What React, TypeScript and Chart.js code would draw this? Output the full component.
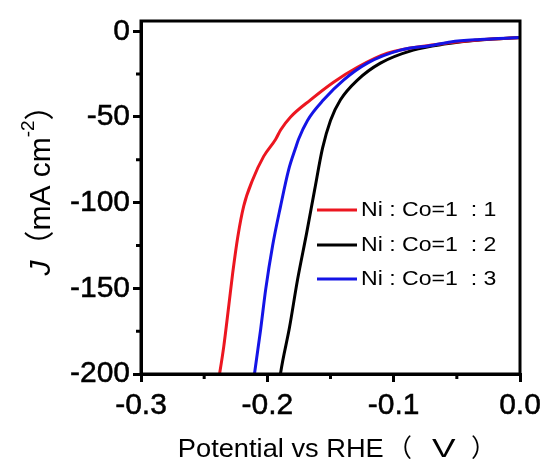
import { useEffect, useRef } from 'react';
import { Chart, registerables } from 'chart.js';

Chart.register(...registerables);

// ---- data (potential in V vs RHE, current density in mA cm^-2) ----
const seriesNames = ['Ni : Co=1  : 1', 'Ni : Co=1  : 2', 'Ni : Co=1  : 3'];
const seriesColors = ['#ec1620', '#000000', '#1414e6'];

const potential11 = [-0.239, -0.2376, -0.2345, -0.2305, -0.2274, -0.2234, -0.2187, -0.2116, -0.2029, -0.1934, -0.1895, -0.1816, -0.1658, -0.1476, -0.1287, -0.105, -0.07, -0.05, -0.03, 0.0];
const current11 = [-205, -199, -184, -160, -141, -120, -102, -86.6, -73, -63, -57.6, -50, -40, -29.7, -21, -12.8, -8, -6.2, -4.9, -3.7];

const potential12 = [-0.1905, -0.1895, -0.1824, -0.1761, -0.1689, -0.1626, -0.1563, -0.15, -0.1421, -0.1287, -0.1105, -0.0845, -0.06, -0.03, 0.0];
const current12 = [-205, -199.4, -172.6, -145, -117.8, -92.7, -68.2, -52, -40, -28.5, -18.6, -11, -7.5, -5, -3.7];

const potential13 = [-0.211, -0.21, -0.2053, -0.2013, -0.1958, -0.1895, -0.1832, -0.1776, -0.1753, -0.1682, -0.1555, -0.1397, -0.1208, -0.0947, -0.0687, -0.055, -0.0316, 0.0];
const current13 = [-205, -199, -174, -150.6, -125, -102, -81, -68, -63, -52, -40, -28.5, -18.6, -11, -8.1, -6.2, -4.8, -3.7];

const xMajorTicks = [-0.3, -0.2, -0.1, 0.0];
const xTickLabels = ['-0.3', '-0.2', '-0.1', '0.0'];
const yMajorTicks = [0, -50, -100, -150, -200];
const yTickLabels = ['0', '-50', '-100', '-150', '-200'];

const FONT = "'Liberation Sans', Arial, 'Noto Sans CJK SC', sans-serif";

const toPoints = (xs: number[], ys: number[]) => xs.map((x, i) => ({ x, y: ys[i] }));
const isMajor = (v: number, majors: number[]) => majors.some((m) => Math.abs(m - v) < 1e-6);

// draw text so that its ink spans [inkLeft, inkLeft+inkWidth] horizontally
function drawInk(ctx: any, text: string, font: string, inkLeft: number, baseline: number, inkWidth?: number) {
  ctx.save();
  ctx.font = font;
  ctx.textAlign = 'left';
  ctx.textBaseline = 'alphabetic';
  const m = ctx.measureText(text);
  const w = m.actualBoundingBoxLeft + m.actualBoundingBoxRight;
  const sx = inkWidth ? inkWidth / w : 1;
  ctx.translate(inkLeft, baseline);
  ctx.scale(sx, 1);
  ctx.fillText(text, m.actualBoundingBoxLeft, 0);
  ctx.restore();
}

const decorPlugin = {
  id: 'decor',
  afterDraw(chart: any) {
    const { ctx, chartArea, scales } = chart;
    const { left, right, top, bottom } = chartArea;
    ctx.save();
    // minor ticks
    ctx.strokeStyle = '#000';
    ctx.lineWidth = 3;
    ctx.beginPath();
    for (const t of scales.x.ticks) {
      if (isMajor(t.value, xMajorTicks)) continue;
      const px = scales.x.getPixelForValue(t.value);
      ctx.moveTo(px, bottom);
      ctx.lineTo(px, bottom + 5);
    }
    for (const t of scales.y.ticks) {
      if (isMajor(t.value, yMajorTicks)) continue;
      const py = scales.y.getPixelForValue(t.value);
      ctx.moveTo(left, py);
      ctx.lineTo(left - 5, py);
    }
    ctx.stroke();
    // frame
    ctx.lineWidth = 3;
    ctx.strokeRect(left, top, right - left, bottom - top);

    // legend
    const legX = 317;
    const legRows = [210, 245, 279];
    seriesNames.forEach((name, i) => {
      const y = legRows[i];
      ctx.strokeStyle = seriesColors[i];
      ctx.lineWidth = 3;
      ctx.beginPath();
      ctx.moveTo(legX, y);
      ctx.lineTo(legX + 40, y);
      ctx.stroke();
      ctx.save();
      ctx.translate(legX + 44, y);
      ctx.scale(1.1, 1);
      ctx.fillStyle = '#000';
      ctx.font = `21px ${FONT}`;
      ctx.textAlign = 'left';
      ctx.textBaseline = 'middle';
      ctx.fillText(name, 0, 0);
      ctx.restore();
    });

    // x title
    ctx.fillStyle = '#000';
    const tf = `25px ${FONT}`;
    drawInk(ctx, 'Potential vs RHE', tf, 180, 457, 203);
    drawInk(ctx, '（', tf, 404, 457);
    drawInk(ctx, 'V', tf, 432, 457, 24);
    drawInk(ctx, '）', tf, 472, 457);

    // y title (rotated)
    ctx.save();
    ctx.translate(50, 183);
    ctx.rotate(-Math.PI / 2);
    ctx.fillStyle = '#000';
    ctx.textAlign = 'left';
    ctx.textBaseline = 'alphabetic';
    const parts: { text: string; font: string; dy: number }[] = [
      { text: 'J', font: `italic 30px ${FONT}`, dy: 0 },
      { text: '（', font: `30px ${FONT}`, dy: 0 },
      { text: 'mA cm', font: `30px ${FONT}`, dy: 0 },
      { text: '-2', font: `19px ${FONT}`, dy: -16 },
      { text: '）', font: `30px ${FONT}`, dy: 0 },
    ];
    let total = 0;
    const widths = parts.map((p) => {
      ctx.font = p.font;
      const w = ctx.measureText(p.text).width;
      total += w;
      return w;
    });
    let cx = -total / 2;
    parts.forEach((p, i) => {
      ctx.font = p.font;
      ctx.fillText(p.text, cx, p.dy);
      cx += widths[i];
    });
    ctx.restore();
    ctx.restore();
  },
};

export default function App() {
  const canvasRef = useRef<HTMLCanvasElement | null>(null);

  useEffect(() => {
    if (!canvasRef.current) return;
    const mk = (i: number, xs: number[], ys: number[], order: number) => ({
      label: seriesNames[i],
      data: toPoints(xs, ys),
      borderColor: seriesColors[i],
      backgroundColor: seriesColors[i],
      borderWidth: 3,
      pointRadius: 0,
      cubicInterpolationMode: 'monotone' as const,
      fill: false,
      order,
    });
    const chart = new Chart(canvasRef.current, {
      type: 'line',
      data: {
        datasets: [
          mk(0, potential11, current11, 1),
          mk(1, potential12, current12, 2),
          mk(2, potential13, current13, 0),
        ],
      },
      options: {
        animation: false,
        responsive: false,
        devicePixelRatio: 1,
        layout: { padding: { top: 21, right: 27, left: 0, bottom: 0 } },
        plugins: { legend: { display: false }, tooltip: { enabled: false } },
        scales: {
          x: {
            type: 'linear',
            min: -0.3,
            max: 0.0,
            afterFit: (s: any) => {
              s.height = 89;
            },
            border: { display: true, color: '#000', width: 3 },
            grid: {
              drawOnChartArea: false,
              drawTicks: true,
              tickLength: 8,
              lineWidth: 3,
              color: (c: any) => (c.tick && isMajor(c.tick.value, xMajorTicks) ? '#000' : 'rgba(0,0,0,0)'),
            },
            ticks: {
              stepSize: 0.05,
              includeBounds: false,
              padding: 6,
              color: '#000',
              textStrokeColor: '#000',
              textStrokeWidth: 0.5,
              font: { family: FONT, size: 30 },
              maxRotation: 0,
              autoSkip: false,
              callback: (v: any) => {
                const idx = xMajorTicks.findIndex((m) => Math.abs(m - v) < 1e-6);
                return idx >= 0 ? xTickLabels[idx] : '';
              },
            },
          },
          y: {
            type: 'linear',
            min: -200,
            max: 6,
            afterFit: (s: any) => {
              s.width = 141;
            },
            border: { display: true, color: '#000', width: 3 },
            grid: {
              drawOnChartArea: false,
              drawTicks: true,
              tickLength: 8,
              lineWidth: 3,
              color: (c: any) => (c.tick && isMajor(c.tick.value, yMajorTicks) ? '#000' : 'rgba(0,0,0,0)'),
            },
            ticks: {
              stepSize: 25,
              includeBounds: false,
              padding: 3,
              color: '#000',
              textStrokeColor: '#000',
              textStrokeWidth: 0.5,
              font: { family: FONT, size: 30 },
              autoSkip: false,
              callback: (v: any) => {
                const idx = yMajorTicks.findIndex((m) => Math.abs(m - v) < 1e-6);
                return idx >= 0 ? yTickLabels[idx] : '';
              },
            },
          },
        },
      },
      plugins: [decorPlugin],
    });
    return () => chart.destroy();
  }, []);

  return (
    <div style={{ position: 'fixed', left: 0, top: 0, width: 547, height: 463, background: '#fff' }}>
      <canvas ref={canvasRef} width={547} height={463} style={{ width: 547, height: 463, display: 'block' }} />
    </div>
  );
}
